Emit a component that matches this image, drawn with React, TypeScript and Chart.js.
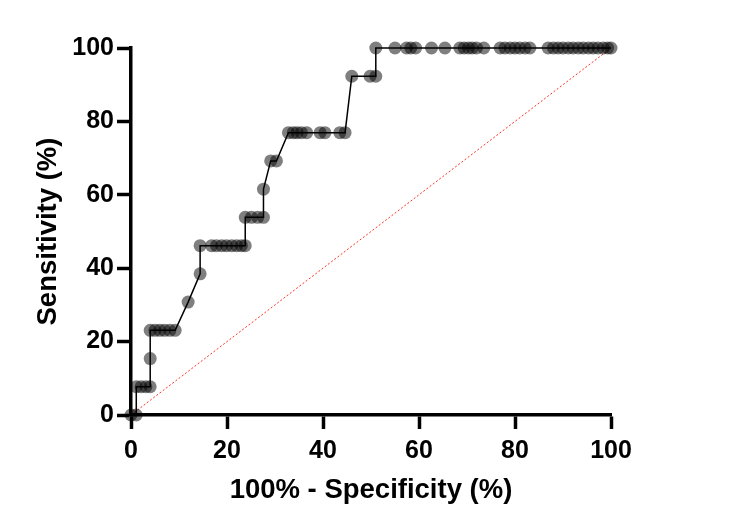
import React, { useEffect, useRef } from "react";
import { Chart, registerables } from "chart.js";

Chart.register(...registerables);

// 100% - Specificity (%) for each ROC point
const rocX: number[] = [
  0, 1.1, 1.1, 2.1, 3.1, 4.0, 4.0, 4.0, 5.0, 6.0, 7.0, 8.1, 9.2, 11.9, 14.4,
  14.4, 16.8, 17.8, 18.9, 19.9, 21.0, 22.0, 23.0, 23.8, 23.8, 25.1, 26.4, 27.6,
  27.6, 29.1, 30.3, 32.8, 33.8, 34.6, 35.5, 36.6, 39.4, 40.4, 43.5, 44.6, 46.0,
  49.8, 51.0, 51.0, 55.0, 57.4, 58.3, 59.3, 62.6, 65.4, 68.5, 69.4, 70.3, 71.1,
  72.0, 73.5, 76.9, 77.9, 79.0, 80.0, 81.0, 82.1, 83.1, 86.9, 88.0, 89.0, 90.0,
  91.1, 92.1, 93.2, 94.2, 95.3, 96.3, 97.3, 98.4, 99.3, 100,
];
// Sensitivity (%) for each ROC point
const rocY: number[] = [
  0, 0, 7.69, 7.69, 7.69, 7.69, 15.38, 23.08, 23.08, 23.08, 23.08, 23.08, 23.08,
  30.77, 38.46, 46.15, 46.15, 46.15, 46.15, 46.15, 46.15, 46.15, 46.15, 46.15,
  53.85, 53.85, 53.85, 53.85, 61.54, 69.23, 69.23, 76.92, 76.92, 76.92, 76.92,
  76.92, 76.92, 76.92, 76.92, 76.92, 92.31, 92.31, 92.31, 100, 100, 100, 100,
  100, 100, 100, 100, 100, 100, 100, 100, 100, 100, 100, 100, 100, 100, 100,
  100, 100, 100, 100, 100, 100, 100, 100, 100, 100, 100, 100, 100, 100, 100,
];
// Reference (chance) line
const refX: number[] = [0, 100];
const refY: number[] = [0, 100];

const xTicks: number[] = [0, 20, 40, 60, 80, 100];
const yTicks: number[] = [0, 20, 40, 60, 80, 100];
const xTitle = "100% - Specificity (%)";
const yTitle = "Sensitivity (%)";

const FONT = "'Liberation Sans', Arial, Helvetica, sans-serif";

export default function App() {
  const ref = useRef<HTMLCanvasElement | null>(null);

  useEffect(() => {
    if (!ref.current) return;
    const roc = rocX.map((x, i) => ({ x, y: rocY[i] }));
    const diag = refX.map((x, i) => ({ x, y: refY[i] }));
    const axisCommon = {
      type: "linear" as const,
      min: 0,
      max: 100,
      border: { display: true, width: 3.5, color: "#000" },
      grid: {
        display: true,
        drawOnChartArea: false,
        drawTicks: true,
        tickLength: 14,
        tickWidth: 3.5,
        tickColor: "#000",
        color: "#000",
      },
    };
    const chart = new Chart(ref.current, {
      type: "scatter",
      data: {
        datasets: [
          {
            data: roc,
            showLine: true,
            borderColor: "#000",
            borderWidth: 1.5,
            pointRadius: 6.5,
            pointBorderWidth: 0,
            pointBackgroundColor: "rgba(0,0,0,0.5)",
            pointHoverRadius: 6.5,
            clip: false as any,
            order: 0,
          },
          {
            data: diag,
            showLine: true,
            borderColor: "#ff3322",
            borderWidth: 1,
            borderDash: [2, 2],
            pointRadius: 0,
            clip: false as any,
            order: 1,
          },
        ],
      },
      options: {
        responsive: false,
        animation: false,
        layout: { padding: { left: 0, top: 48, right: 139, bottom: 0 } },
        plugins: { legend: { display: false }, tooltip: { enabled: false } },
        scales: {
          x: {
            ...axisCommon,
            afterBuildTicks: (s: any) => {
              s.ticks = xTicks.map((v) => ({ value: v }));
            },
            afterFit: (s: any) => {
              s.height = 112;
            },
            ticks: {
              color: "#000",
              padding: 7,
              font: { family: FONT, size: 25, weight: "bold" },
            },
            title: {
              display: true,
              text: xTitle,
              color: "#000",
              padding: { top: 0, bottom: 20 },
              font: { family: FONT, size: 27.5, weight: "bold" },
            },
          },
          y: {
            ...axisCommon,
            afterBuildTicks: (s: any) => {
              s.ticks = yTicks.map((v) => ({ value: v }));
            },
            afterFit: (s: any) => {
              s.width = 131;
            },
            ticks: {
              color: "#000",
              padding: 3,
              font: { family: FONT, size: 25, weight: "bold" },
            },
            title: {
              display: true,
              text: yTitle,
              color: "#000",
              padding: { top: 32, bottom: 0 },
              font: { family: FONT, size: 27.5, weight: "bold" },
            },
          },
        },
      },
    });
    return () => chart.destroy();
  }, []);

  return (
    <div style={{ position: "absolute", left: 0, top: 0, width: 750, height: 527, background: "#fff" }}>
      <canvas ref={ref} width={750} height={527} style={{ display: "block" }} />
    </div>
  );
}
